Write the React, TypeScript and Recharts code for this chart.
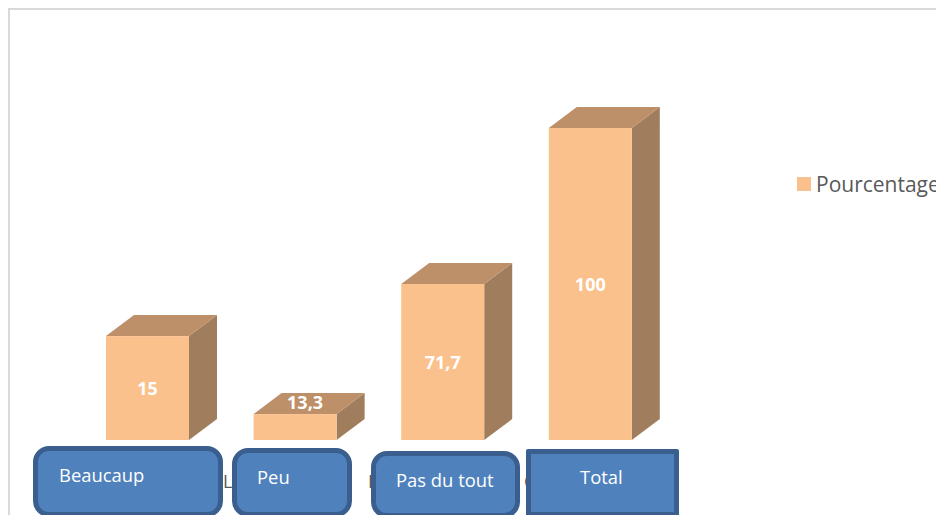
import React from 'react';
import { BarChart, Bar, XAxis, YAxis, Legend } from 'recharts';

const categories = ['Beaucaup', 'Peu', 'Pas du tout', 'Total'];
// drawn bar heights as seen in the picture (they do not follow the printed labels)
const barHeights = [33.3, 8.3, 50, 100];
const printedLabels = ['15', '13,3', '71,7', '100'];
const seriesName = 'Pourcentage';

// the tick labels of the chart that peek out between the pasted boxes
const hiddenTickBits = [
  { text: 'L', left: 223 },
  { text: 'P', left: 368 },
  { text: 'C', left: 524 },
];

const boxes = [
  { left: 33, top: 446, width: 190, height: 71, radius: 16, textLeft: 26, textTop: 17 },
  { left: 232, top: 448, width: 120, height: 69, radius: 16, textLeft: 25, textTop: 17 },
  { left: 371, top: 451, width: 149, height: 67, radius: 16, textLeft: 25, textTop: 17 },
  { left: 526, top: 449, width: 153, height: 68, radius: 2, textLeft: 54, textTop: 16 },
];

const data = categories.map((name, i) => ({
  name,
  value: barHeights[i],
  label: printedLabels[i],
}));

const FONT = '"Open Sans", sans-serif';
const DEPTH_X = 28;
const DEPTH_Y = 21;

const Bar3D = (props: any) => {
  const { x, y, width, height, payload } = props;
  const r = x + width;
  const b = y + height;
  const shallow = height < 40;
  return (
    <g>
      <polygon
        points={`${r},${y} ${r + DEPTH_X},${y - DEPTH_Y} ${r + DEPTH_X},${b - DEPTH_Y} ${r},${b}`}
        fill="#A07D5C"
      />
      <polygon
        points={`${x},${y} ${x + DEPTH_X},${y - DEPTH_Y} ${r + DEPTH_X},${y - DEPTH_Y} ${r},${y}`}
        fill="#BD9069"
      />
      <rect x={x} y={y} width={width} height={height} fill="#FBC18D" />
      <text
        x={x + width / 2 + (shallow ? 10 : 0)}
        y={shallow ? y - 12 : y + height / 2}
        textAnchor="middle"
        dominantBaseline="central"
        fill="#ffffff"
        fontFamily={FONT}
        fontWeight={700}
        fontSize={18}
      >
        {payload.label}
      </text>
    </g>
  );
};

const LegendContent = ({ payload }: any) => (
  <div style={{ display: 'flex', alignItems: 'center', whiteSpace: 'nowrap' }}>
    {(payload || []).map((item: any) => (
      <React.Fragment key={item.value}>
        <span style={{ width: 14, height: 14, background: item.color, marginRight: 5 }} />
        <span style={{ color: '#595959', fontFamily: FONT, fontSize: 21 }}>{item.value}</span>
      </React.Fragment>
    ))}
  </div>
);

export default function App() {
  return (
    <div style={{ position: 'absolute', left: 0, top: 0, width: 936, height: 515, overflow: 'hidden', background: '#fff' }}>
      <div
        style={{
          position: 'absolute',
          left: 8,
          top: 8,
          width: 960,
          height: 540,
          border: '2px solid #d9d9d9',
          boxSizing: 'border-box',
        }}
      />
      <BarChart
        width={936}
        height={515}
        data={data}
        margin={{ top: 128, right: 271.6, bottom: 59, left: 74 }}
        style={{ position: 'absolute', left: 0, top: 0 }}
      >
        <XAxis dataKey="name" height={0} tick={false} tickLine={false} axisLine={{ stroke: '#d9d9d9', strokeWidth: 2 }} />
        <YAxis hide domain={[-5.13, 100]} />
        <Legend
          layout="vertical"
          align="center"
          verticalAlign="middle"
          content={<LegendContent />}
          wrapperStyle={{ left: 797, top: 170, width: 170, height: 28 }}
        />
        <Bar dataKey="value" name={seriesName} fill="#FBC18D" barSize={83} shape={<Bar3D />} isAnimationActive={false} />
      </BarChart>
      {hiddenTickBits.map((bit) => (
        <span
          key={bit.left}
          style={{
            position: 'absolute',
            left: bit.left,
            top: 469,
            color: '#595959',
            fontFamily: FONT,
            fontSize: 18,
          }}
        >
          {bit.text}
        </span>
      ))}
      {boxes.map((box, i) => (
        <div
          key={categories[i]}
          style={{
            position: 'absolute',
            left: box.left,
            top: box.top,
            width: box.width,
            height: box.height,
            boxSizing: 'border-box',
            background: '#4F81BD',
            border: '5px solid #3A5F8F',
            borderRadius: box.radius,
          }}
        >
          <span
            style={{
              position: 'absolute',
              left: box.textLeft - 5,
              top: box.textTop - 5,
              color: '#fff',
              fontFamily: FONT,
              fontSize: 18.4,
              lineHeight: '24px',
              whiteSpace: 'nowrap',
            }}
          >
            {categories[i]}
          </span>
        </div>
      ))}
    </div>
  );
}
